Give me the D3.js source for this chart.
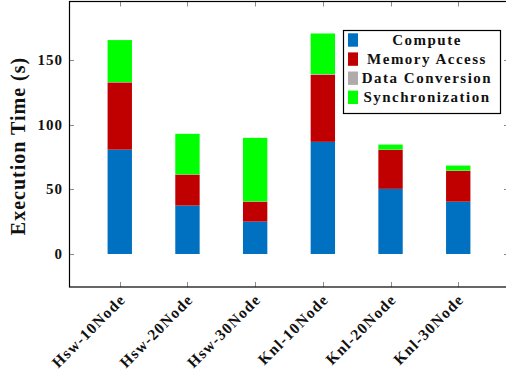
<!DOCTYPE html>
<html>
<head>
<meta charset="utf-8">
<script src="https://cdn.jsdelivr.net/npm/d3@7"></script>
<style>
  html, body { margin: 0; padding: 0; background: #fff; }
  svg { display: block; }
  text { font-family: "Liberation Serif", "Times New Roman", serif; font-weight: bold; fill: #111; }
</style>
</head>
<body>
<svg id="chart" width="506" height="372"></svg>
<script>
// Execution time breakdown per configuration (seconds)
const categories = ["Hsw-10Node", "Hsw-20Node", "Hsw-30Node", "Knl-10Node", "Knl-20Node", "Knl-30Node"];
const seriesNames = ["Compute", "Memory Access", "Data Conversion", "Synchronization"];
const seriesColors = ["#0070C0", "#C00000", "#AFABAB", "#00FF00"];
const compute        = [80.6, 37.4, 25.0, 86.6, 50.3, 40.4];
const memoryAccess   = [51.9, 23.9, 15.4, 51.8, 30.1, 23.8];
const dataConversion = [0.3, 0.2, 0.2, 0.6, 0.2, 0.2];
const synchronization= [32.4, 31.3, 49.1, 31.3, 3.9, 3.9];
const yTicks = [0, 50, 100, 150];
const yLabel = "Execution Time (s)";

const svg = d3.select("#chart");
const plot = { left: 69, right: 509, top: 1.5, bottom: 287 };

const x = d3.scalePoint().domain(categories).range([plot.left, plot.right]).padding(0.75);
const y = d3.scaleLinear().domain([-25.5, 195]).range([plot.bottom, plot.top]);
const barW = x.step() * 0.36;

// stack the four components
const rows = categories.map((c, i) => ({
  cat: c,
  "Compute": compute[i],
  "Memory Access": memoryAccess[i],
  "Data Conversion": dataConversion[i],
  "Synchronization": synchronization[i]
}));
const stacked = d3.stack().keys(seriesNames)(rows);

svg.append("g").selectAll("g")
  .data(stacked).join("g")
  .attr("fill", (d, i) => seriesColors[i])
  .selectAll("rect")
  .data(d => d).join("rect")
  .attr("x", d => x(d.data.cat) - barW / 2)
  .attr("width", barW)
  .attr("y", d => y(d[1]))
  .attr("height", d => y(d[0]) - y(d[1]));

// inward ticks on all four sides
const tickLen = 5;
const tickColor = "#8c8c8c";
const tk = svg.append("g").attr("stroke", tickColor).attr("stroke-width", 1);
categories.forEach(c => {
  const xx = Math.round(x(c)) + 0.5;
  tk.append("line").attr("x1", xx).attr("x2", xx).attr("y1", plot.bottom).attr("y2", plot.bottom - tickLen);
  tk.append("line").attr("x1", xx).attr("x2", xx).attr("y1", plot.top).attr("y2", plot.top + tickLen);
});
yTicks.forEach(v => {
  const yy = Math.round(y(v)) + 0.5;
  tk.append("line").attr("x1", plot.left).attr("x2", plot.left + tickLen).attr("y1", yy).attr("y2", yy);
  tk.append("line").attr("x1", plot.right).attr("x2", plot.right - tickLen).attr("y1", yy).attr("y2", yy);
});

// frame
svg.append("rect")
  .attr("x", plot.left + 0.5).attr("y", plot.top)
  .attr("width", plot.right - plot.left).attr("height", plot.bottom - plot.top)
  .attr("fill", "none").attr("stroke", "#000").attr("stroke-width", 1.2);

// y tick labels
svg.append("g").selectAll("text")
  .data(yTicks).join("text")
  .attr("x", plot.left - 6)
  .attr("y", d => y(d))
  .attr("dy", "0.34em")
  .attr("text-anchor", "end")
  .attr("font-size", 15)
  .attr("letter-spacing", 1)
  .text(d => d);

// x tick labels, rotated
svg.append("g").selectAll("text")
  .data(categories).join("text")
  .attr("transform", d => `translate(${x(d) + 0},${plot.bottom + 7}) rotate(-45)`)
  .attr("text-anchor", "end")
  .attr("dy", "0.6em")
  .attr("font-size", 15.5)
  .attr("letter-spacing", 1.2)
  .text(d => d);

// y axis title
svg.append("text")
  .attr("transform", `translate(25,146) rotate(-90)`)
  .attr("text-anchor", "middle")
  .attr("font-size", 20)
  .attr("letter-spacing", 1)
  .text(yLabel);

// legend
const lg = svg.append("g");
lg.append("rect")
  .attr("x", 343.5).attr("y", 30.5).attr("width", 157).attr("height", 83)
  .attr("fill", "#fff").attr("stroke", "#000").attr("stroke-width", 1.2);
seriesNames.forEach((name, i) => {
  const cy = 40 + i * 19.1;
  lg.append("rect")
    .attr("x", 348).attr("y", cy - 6.7).attr("width", 10).attr("height", 13.4)
    .attr("fill", seriesColors[i]);
  lg.append("text")
    .attr("x", 427).attr("y", cy).attr("dy", "0.34em")
    .attr("text-anchor", "middle")
    .attr("font-size", 15)
    .attr("letter-spacing", 1.5)
    .text(name);
});
</script>
</body>
</html>
